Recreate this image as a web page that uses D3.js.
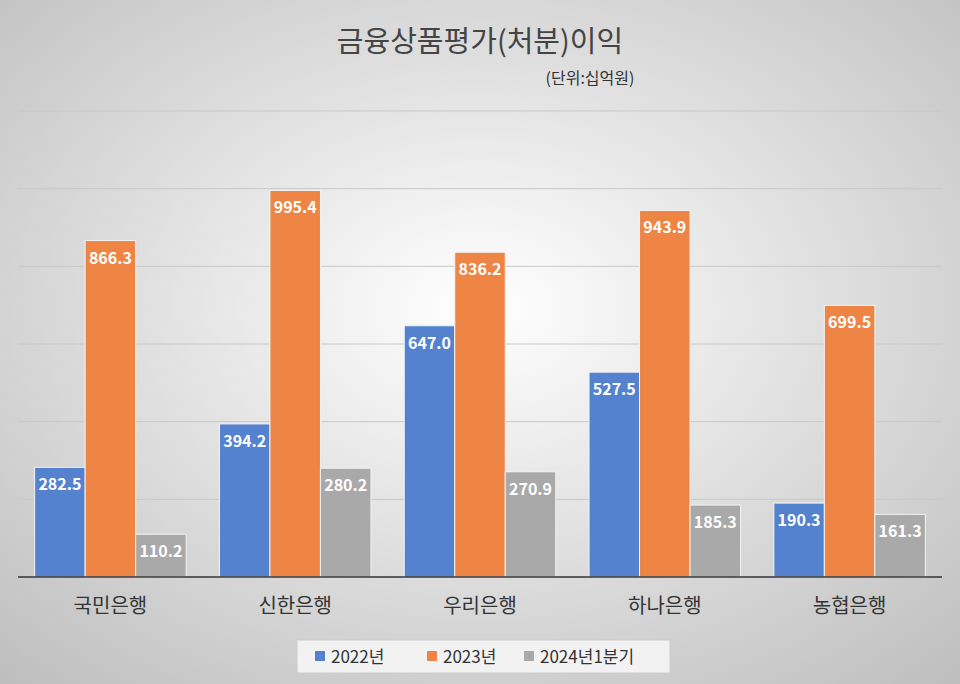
<!DOCTYPE html>
<html><head><meta charset="utf-8">
<script src="https://cdn.jsdelivr.net/npm/d3@7"></script>
<style>body{margin:0;}svg{display:block;font-family:"Noto Sans CJK KR","Noto Sans",sans-serif;}</style>
</head><body><div id="chart"></div>
<script>
/* DATA */
const banks = ["국민은행", "신한은행", "우리은행", "하나은행", "농협은행"];
const seriesNames = ["2022년", "2023년", "2024년1분기"];
const v2022 = [282.5, 394.2, 647.0, 527.5, 190.3];
const v2023 = [866.3, 995.4, 836.2, 943.9, 699.5];
const v2024q1 = [110.2, 280.2, 270.9, 185.3, 161.3];
const colors = ["#5582cf", "#ee8544", "#a9a9a9"];
const yTicks = [0, 200, 400, 600, 800, 1000, 1200];

const width = 960, height = 684;
const margin = { top: 111, bottom: 107, left: 18, right: 18 };

const svg = d3.select("#chart").append("svg").attr("width", width).attr("height", height);

const grad = svg.append("defs").append("radialGradient").attr("id", "bg")
  .attr("cx", "50%").attr("cy", "45%").attr("r", "75%");
grad.append("stop").attr("offset", "0%").attr("stop-color", "#ffffff");
grad.append("stop").attr("offset", "100%").attr("stop-color", "#bdbdbd");
svg.append("rect").attr("width", width).attr("height", height).attr("fill", "url(#bg)");

const xScale = d3.scaleBand().domain(banks).range([margin.left, width - margin.right]).paddingInner(0.18).paddingOuter(0.09);
const xSub = d3.scaleBand().domain(seriesNames).range([0, xScale.bandwidth()]);
const yScale = d3.scaleLinear().domain([0, 1200]).range([height - margin.bottom, margin.top]);

// gridlines
svg.append("g").selectAll("line").data(yTicks.slice(1)).join("line")
  .attr("x1", margin.left).attr("x2", width - margin.right)
  .attr("y1", d => yScale(d)).attr("y2", d => yScale(d))
  .attr("stroke", "#c8c8c8").attr("stroke-width", 1);

const data = banks.map((b, i) => ({ bank: b, vals: [v2022[i], v2023[i], v2024q1[i]] }));

const groups = svg.append("g").selectAll("g").data(data).join("g")
  .attr("transform", d => `translate(${xScale(d.bank)},0)`);

const cells = groups.selectAll("g").data(d => d.vals.map((v, k) => ({ v, k }))).join("g");
cells.append("rect")
  .attr("x", d => xSub(seriesNames[d.k]))
  .attr("width", xSub.bandwidth())
  .attr("y", d => yScale(d.v))
  .attr("height", d => yScale(0) - yScale(d.v))
  .attr("fill", d => colors[d.k])
  .attr("stroke", "#f4f4f4").attr("stroke-width", 1);
cells.append("text")
  .attr("x", d => xSub(seriesNames[d.k]) + xSub.bandwidth() / 2)
  .attr("y", d => yScale(d.v) + 23)
  .attr("text-anchor", "middle").attr("fill", "#fff")
  .attr("font-size", 16).attr("font-weight", "bold")
  .text(d => d.v.toFixed(1));

// baseline + axis
svg.append("line").attr("x1", margin.left).attr("x2", width - margin.right)
  .attr("y1", yScale(0)).attr("y2", yScale(0)).attr("stroke", "#333").attr("stroke-width", 1.5);
svg.append("g").attr("transform", `translate(0,${yScale(0)})`)
  .call(d3.axisBottom(xScale).tickSize(0).tickPadding(22))
  .call(g => g.select(".domain").remove())
  .selectAll("text").attr("font-size", 20).attr("fill", "#333")
  .attr("font-family", "'Noto Sans CJK KR',sans-serif");

// title
svg.append("text").attr("x", 480).attr("y", 52).attr("text-anchor", "middle")
  .attr("font-size", 29).attr("fill", "#444").text("금융상품평가(처분)이익");
svg.append("text").attr("x", 590).attr("y", 84).attr("text-anchor", "middle")
  .attr("font-size", 16).attr("fill", "#333").text("(단위:십억원)");

// legend
const lg = svg.append("g");
lg.append("rect").attr("x", 297).attr("y", 640).attr("width", 373).attr("height", 33)
  .attr("fill", "#f2f2f2").attr("stroke", "#ccc");
const lx = [315, 427, 524];
seriesNames.forEach((s, i) => {
  lg.append("rect").attr("x", lx[i]).attr("y", 651).attr("width", 10).attr("height", 10).attr("fill", colors[i]);
  lg.append("text").attr("x", lx[i] + 16).attr("y", 663).attr("font-size", 17).attr("fill", "#333").text(s);
});
</script></body></html>
